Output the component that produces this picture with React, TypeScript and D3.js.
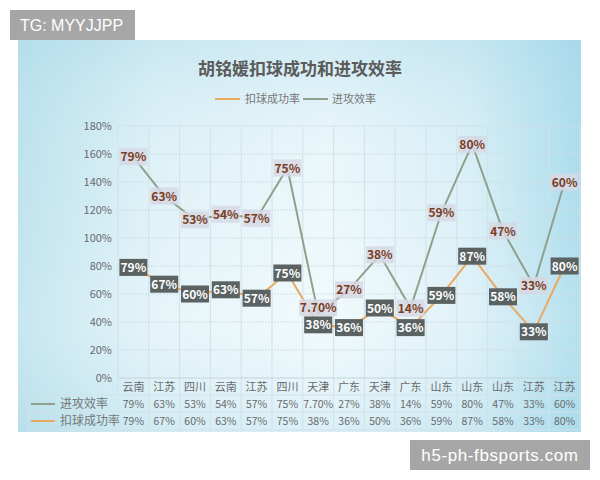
import React from "react";
import * as d3 from "d3";

const categories = ["云南", "江苏", "四川", "云南", "江苏", "四川", "天津", "广东", "天津", "广东", "山东", "山东", "山东", "江苏", "江苏"];
const attackEff = [79, 63, 53, 54, 57, 75, 7.7, 27, 38, 14, 59, 80, 47, 33, 60];
const spikeRate = [79, 67, 60, 63, 57, 75, 38, 36, 50, 36, 59, 87, 58, 33, 80];
const yTicks = [0, 20, 40, 60, 80, 100, 120, 140, 160, 180];

const fmt = (v: number) => (v % 1 === 0 ? `${v}%` : `${v.toFixed(2)}%`);

export default function App() {
  const W = 600, H = 480;
  const left = 118, right = 580, top = 126, bottom = 378;
  const idx = categories.map((_, i) => i);
  const x = d3.scaleBand<number>().domain(idx).range([left, right]);
  const y = d3.scaleLinear().domain([0, 180]).range([bottom, top]);
  const cx = (i: number) => (x(i) as number) + x.bandwidth() / 2;
  const stacked = attackEff.map((v, i) => v + spikeRate[i]);

  const line = d3.line<number>().x((_, i) => cx(i)).y((d) => y(d));
  const font = "'Noto Sans CJK SC', 'Noto Sans', sans-serif";
  const orange = "#e9a95e";
  const green = "#8fa08c";

  const boxW = (s: string) => Math.max(28, s.length * 6.4 + 6);

  return (
    <svg width={W} height={H} style={{ position: "absolute", left: 0, top: 0 }} fontFamily={font}>
      <defs>
        <linearGradient id="bgH" x1="0" x2="1" y1="0" y2="0">
          <stop offset="0" stopColor="#bde2ed" />
          <stop offset="0.25" stopColor="#e2f3f8" />
          <stop offset="0.55" stopColor="#eff9fc" />
          <stop offset="0.8" stopColor="#dbf0f7" />
          <stop offset="1" stopColor="#a8dbec" />
        </linearGradient>
        <linearGradient id="bgV" x1="0" x2="0" y1="0" y2="1">
          <stop offset="0" stopColor="#a5d6e8" stopOpacity="0.4" />
          <stop offset="0.3" stopColor="#c8e7f1" stopOpacity="0.12" />
          <stop offset="0.7" stopColor="#ffffff" stopOpacity="0.15" />
          <stop offset="1" stopColor="#a9d9ea" stopOpacity="0.3" />
        </linearGradient>
      </defs>
      <rect x={0} y={0} width={W} height={H} fill="#ffffff" />
      <rect x={18} y={40} width={563} height={392} fill="url(#bgH)" />
      <rect x={18} y={40} width={563} height={392} fill="url(#bgV)" />

      {/* title */}
      <text x={300} y={75} textAnchor="middle" fontSize={17} fontWeight="bold" fill="#5b5b5b">胡铭媛扣球成功和进攻效率</text>
      {/* legend */}
      <line x1={215} x2={240} y1={99} y2={99} stroke={orange} strokeWidth={2} />
      <text x={245} y={103} fontSize={11} fill="#777">扣球成功率</text>
      <line x1={303} x2={328} y1={99} y2={99} stroke={green} strokeWidth={2} />
      <text x={332} y={103} fontSize={11} fill="#777">进攻效率</text>

      {/* horizontal grid */}
      {yTicks.map((t) => (
        <g key={t}>
          {t > 0 && (
            <line x1={left} x2={right} y1={y(t)} y2={y(t)} stroke="#cfdde4" strokeWidth={1} strokeDasharray="2,1" />
          )}
          <text x={112} y={y(t) + 4} textAnchor="end" fontSize={11} fill="#6a6a6a">{t}%</text>
        </g>
      ))}
      {/* vertical grid + table lines */}
      {idx.map((i) => (
        <line key={i} x1={x(i) as number} x2={x(i) as number} y1={top} y2={430} stroke="#d3e1e7" strokeWidth={1} />
      ))}
      <line x1={right} x2={right} y1={top} y2={430} stroke="#d3e1e7" strokeWidth={1} />
      <line x1={left} x2={right} y1={bottom} y2={bottom} stroke="#c4d3da" strokeWidth={1} />
      <line x1={28} x2={right} y1={395} y2={395} stroke="#d3e1e7" strokeWidth={1} />
      <line x1={28} x2={right} y1={412} y2={412} stroke="#d3e1e7" strokeWidth={1} />
      <line x1={28} x2={right} y1={430} y2={430} stroke="#d3e1e7" strokeWidth={1} />
      <line x1={28} x2={28} y1={395} y2={430} stroke="#d3e1e7" strokeWidth={1} />

      {/* table text */}
      {categories.map((c, i) => (
        <text key={"c" + i} x={cx(i)} y={391} textAnchor="middle" fontSize={11} fill="#6a6a6a">{c}</text>
      ))}
      {attackEff.map((v, i) => (
        <text key={"a" + i} x={cx(i)} y={408} textAnchor="middle" fontSize={10.5} fill="#6a6a6a">{fmt(v)}</text>
      ))}
      {spikeRate.map((v, i) => (
        <text key={"s" + i} x={cx(i)} y={425} textAnchor="middle" fontSize={10.5} fill="#6a6a6a">{fmt(v)}</text>
      ))}
      <line x1={31} x2={55} y1={404} y2={404} stroke={green} strokeWidth={2} />
      <text x={60} y={408} fontSize={12} fill="#777">进攻效率</text>
      <line x1={31} x2={55} y1={421} y2={421} stroke={orange} strokeWidth={2} />
      <text x={60} y={425} fontSize={12} fill="#777">扣球成功率</text>

      {/* lines */}
      <path d={line(spikeRate) as string} fill="none" stroke={orange} strokeWidth={2} />
      <path d={line(stacked) as string} fill="none" stroke={green} strokeWidth={2} />

      {/* spike labels */}
      {spikeRate.map((v, i) => {
        const s = fmt(v);
        const w = boxW(s);
        return (
          <g key={"ls" + i}>
            <rect x={cx(i) - w / 2} y={y(v) - 8.5} width={w} height={17} fill="#5a6262" />
            <text x={cx(i)} y={y(v) + 4.5} textAnchor="middle" fontSize={12} fontWeight="bold" fill="#ffffff">{s}</text>
          </g>
        );
      })}
      {/* attack labels */}
      {attackEff.map((v, i) => {
        const s = fmt(v);
        const w = boxW(s);
        const base = y(spikeRate[i]);
        let yy = y(stacked[i]);
        if (base - yy < 17) yy = base - 17;
        return (
          <g key={"la" + i}>
            <rect x={cx(i) - w / 2} y={yy - 8.5} width={w} height={17} fill="#d6d8e4" fillOpacity={0.85} />
            <text x={cx(i)} y={yy + 4.5} textAnchor="middle" fontSize={12} fontWeight="bold" fill="#7a3c22">{s}</text>
          </g>
        );
      })}

      {/* watermarks */}
      <rect x={10} y={10} width={125} height={30} fill="#a6a6a6" />
      <text x={20} y={31} fontSize={16} fill="#ffffff" fontFamily="'Liberation Sans', Arial, sans-serif">TG: MYYJJPP</text>
      <rect x={410} y={440} width={180} height={30} fill="#a6a6a6" />
      <text x={500} y={461} textAnchor="middle" fontSize={17} letterSpacing={0.6} fill="#ffffff" fontFamily="'Liberation Sans', Arial, sans-serif">h5-ph-fbsports.com</text>
    </svg>
  );
}
